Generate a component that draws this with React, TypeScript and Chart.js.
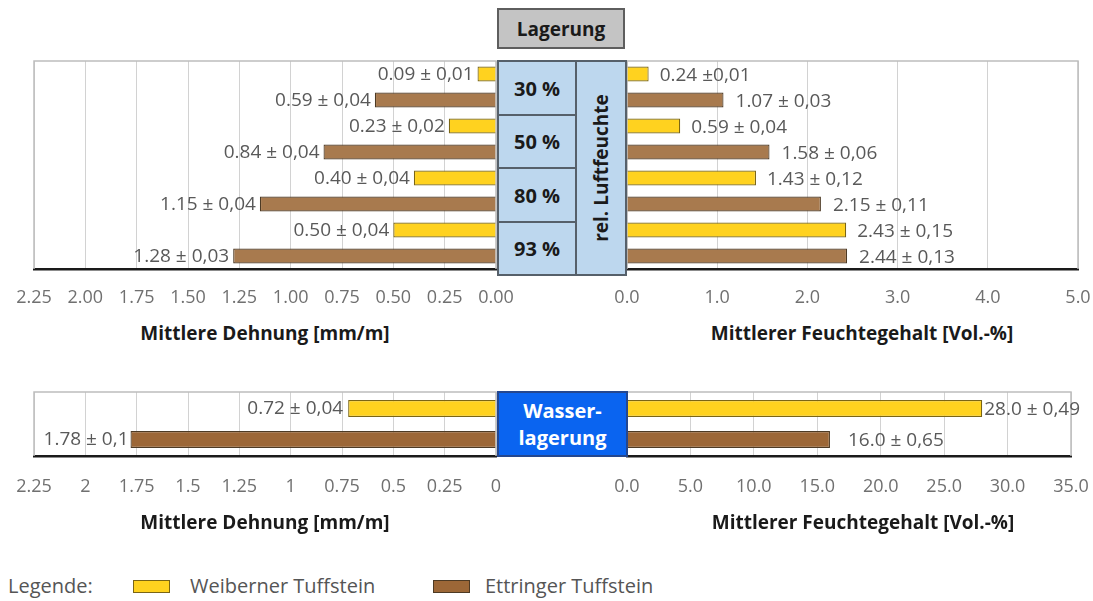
import { useEffect, useRef } from 'react';
import { Chart, registerables } from 'chart.js';

Chart.register(...registerables);

// ---------- data ----------
const humidityLevels = ['30 %', '50 %', '80 %', '93 %'];
const seriesNames = ['Weiberner Tuffstein', 'Ettringer Tuffstein'];

const strainWeiberner = [0.09, 0.23, 0.4, 0.5];
const strainEttringer = [0.59, 0.84, 1.15, 1.28];
const strainWeibernerText = ['0.09 ± 0,01', '0.23 ± 0,02', '0.40 ± 0,04', '0.50 ± 0,04'];
const strainEttringerText = ['0.59 ± 0,04', '0.84 ± 0,04', '1.15 ± 0,04', '1.28 ± 0,03'];

const moistureWeiberner = [0.24, 0.59, 1.43, 2.43];
const moistureEttringer = [1.07, 1.58, 2.15, 2.44];
const moistureWeibernerText = ['0.24 ±0,01', '0.59 ± 0,04', '1.43 ± 0,12', '2.43 ± 0,15'];
const moistureEttringerText = ['1.07 ± 0,03', '1.58 ± 0,06', '2.15 ± 0,11', '2.44 ± 0,13'];

const waterStorage = ['Wasserlagerung'];
const waterStrainWeiberner = [0.72];
const waterStrainEttringer = [1.78];
const waterStrainWeibernerText = ['0.72 ± 0,04'];
const waterStrainEttringerText = ['1.78 ± 0,1'];
const waterMoistureWeiberner = [28.0];
const waterMoistureEttringer = [16.0];
const waterMoistureWeibernerText = ['28.0 ± 0,49'];
const waterMoistureEttringerText = ['16.0 ± 0,65'];

const strainTicksTop = ['0.00', '0.25', '0.50', '0.75', '1.00', '1.25', '1.50', '1.75', '2.00', '2.25'];
const strainTicksBottom = ['0', '0.25', '0.5', '0.75', '1', '1.25', '1.5', '1.75', '2', '2.25'];
const moistureTicksTop = ['0.0', '1.0', '2.0', '3.0', '4.0', '5.0'];
const moistureTicksBottom = ['0.0', '5.0', '10.0', '15.0', '20.0', '25.0', '30.0', '35.0'];

const strainTitle = 'Mittlere Dehnung [mm/m]';
const moistureTitle = 'Mittlerer Feuchtegehalt [Vol.-%]';

// ---------- styles ----------
const FONT = "'Open Sans', sans-serif";
const YELLOW = '#ffd21f';
const YELLOW_BORDER = '#7a6515';
const BROWN_TOP = '#a87a4e';
const BROWN_BOTTOM = '#9c6737';
const BROWN_BORDER = '#4d3a24';

const framePlugin = {
  id: 'frame',
  beforeDatasetsDraw(chart: any) {
    const { ctx, chartArea } = chart;
    const { left, top, right, bottom } = chartArea;
    ctx.save();
    ctx.strokeStyle = '#bdbdbd';
    ctx.lineWidth = 1.5;
    ctx.beginPath();
    ctx.moveTo(left, bottom);
    ctx.lineTo(left, top);
    ctx.lineTo(right, top);
    ctx.lineTo(right, bottom);
    ctx.stroke();
    ctx.restore();
  },
};

const barTextPlugin = {
  id: 'barText',
  afterDatasetsDraw(chart: any, _args: any, opts: any) {
    const { ctx } = chart;
    ctx.save();
    ctx.font = opts.font;
    ctx.fillStyle = opts.color;
    ctx.textBaseline = 'middle';
    chart.data.datasets.forEach((_ds: any, di: number) => {
      const meta = chart.getDatasetMeta(di);
      meta.data.forEach((el: any, i: number) => {
        const t = opts.texts[di][i];
        const gap = opts.gaps[di];
        if (opts.side === 'left') {
          ctx.textAlign = 'right';
          ctx.fillText(t, el.x - gap, el.y + opts.dy);
        } else {
          ctx.textAlign = 'left';
          ctx.fillText(t, el.x + gap, el.y + opts.dy);
        }
      });
    });
    ctx.restore();
  },
};

type PanelProps = {
  left: number;
  top: number;
  width: number;
  height: number;
  pad: { left: number; top: number; right: number };
  axisHeight: number;
  labelPad: number;
  categories: string[];
  values: number[][];
  texts: string[][];
  fills: string[];
  max: number;
  step: number;
  tickLabels: string[];
  reverse: boolean;
  barPct: number;
  catPct: number;
  gaps: number[];
  side: 'left' | 'right';
  dy: number;
};

function Panel(p: PanelProps) {
  const ref = useRef<HTMLCanvasElement | null>(null);
  useEffect(() => {
    if (!ref.current) return;
    const chart = new Chart(ref.current, {
      type: 'bar',
      data: {
        labels: p.categories,
        datasets: p.values.map((vals, di) => ({
          label: seriesNames[di],
          data: vals,
          backgroundColor: p.fills[di],
          borderColor: di === 0 ? YELLOW_BORDER : BROWN_BORDER,
          borderWidth: 1.2,
          barPercentage: p.barPct,
          categoryPercentage: p.catPct,
        })),
      },
      options: {
        indexAxis: 'y',
        animation: false,
        responsive: false,
        maintainAspectRatio: false,
        layout: { padding: { left: p.pad.left, top: p.pad.top, right: p.pad.right, bottom: 0 } },
        plugins: {
          legend: { display: false },
          tooltip: { enabled: false },
          barText: {
            texts: p.texts,
            gaps: p.gaps,
            side: p.side,
            dy: p.dy,
            font: `19px ${FONT}`,
            color: '#595959',
          },
        } as any,
        scales: {
          x: {
            type: 'linear',
            min: 0,
            max: p.max,
            reverse: p.reverse,
            ticks: {
              stepSize: p.step,
              autoSkip: false,
              maxRotation: 0,
              minRotation: 0,
              padding: p.labelPad,
              color: '#707070',
              font: { family: FONT, size: 18 },
              callback: (v: any) => p.tickLabels[Math.round(Number(v) / p.step)],
            },
            grid: { color: '#d2d2d2', lineWidth: 1, drawTicks: false },
            border: { display: true, color: '#1a1a1a', width: 2.5 },
            afterFit: (s: any) => {
              s.height = p.axisHeight;
              s.paddingLeft = 0;
              s.paddingRight = 0;
            },
          },
          y: { display: false },
        },
      } as any,
      plugins: [framePlugin, barTextPlugin],
    });
    return () => chart.destroy();
  }, []);
  return (
    <canvas
      ref={ref}
      width={p.width}
      height={p.height}
      style={{ position: 'absolute', left: p.left, top: p.top, width: p.width, height: p.height }}
    />
  );
}

const boxText: any = {
  position: 'absolute',
  boxSizing: 'border-box',
  display: 'flex',
  alignItems: 'center',
  justifyContent: 'center',
  fontFamily: FONT,
  fontWeight: 700,
};

export default function App() {
  const pctTops = [60, 114, 167, 221];
  return (
    <div style={{ position: 'absolute', left: 0, top: 0, width: 1093, height: 601, background: '#ffffff', overflow: 'hidden', fontFamily: FONT }}>
      <Panel
        left={0} top={0} width={520} height={320}
        pad={{ left: 34, top: 61, right: 24 }} axisHeight={51} labelPad={18}
        categories={humidityLevels}
        values={[strainWeiberner, strainEttringer]}
        texts={[strainWeibernerText, strainEttringerText]}
        fills={[YELLOW, BROWN_TOP]}
        max={2.25} step={0.25} tickLabels={strainTicksTop} reverse={true}
        barPct={0.58} catPct={1} gaps={[4, 4]} side="left" dy={1}
      />
      <Panel
        left={600} top={0} width={493} height={320}
        pad={{ left: 27, top: 61, right: 15 }} axisHeight={51} labelPad={18}
        categories={humidityLevels}
        values={[moistureWeiberner, moistureEttringer]}
        texts={[moistureWeibernerText, moistureEttringerText]}
        fills={[YELLOW, BROWN_TOP]}
        max={5} step={1} tickLabels={moistureTicksTop} reverse={false}
        barPct={0.58} catPct={1} gaps={[11, 12]} side="right" dy={2}
      />
      <Panel
        left={0} top={370} width={520} height={140}
        pad={{ left: 34, top: 22, right: 24 }} axisHeight={54} labelPad={20}
        categories={waterStorage}
        values={[waterStrainWeiberner, waterStrainEttringer]}
        texts={[waterStrainWeibernerText, waterStrainEttringerText]}
        fills={[YELLOW, BROWN_BOTTOM]}
        max={2.25} step={0.25} tickLabels={strainTicksBottom} reverse={true}
        barPct={0.55} catPct={0.97} gaps={[5, 2]} side="left" dy={0}
      />
      <Panel
        left={600} top={370} width={493} height={140}
        pad={{ left: 27, top: 22, right: 22 }} axisHeight={54} labelPad={20}
        categories={waterStorage}
        values={[waterMoistureWeiberner, waterMoistureEttringer]}
        texts={[waterMoistureWeibernerText, waterMoistureEttringerText]}
        fills={[YELLOW, BROWN_BOTTOM]}
        max={35} step={5} tickLabels={moistureTicksBottom} reverse={false}
        barPct={0.55} catPct={0.97} gaps={[2, 18]} side="right" dy={1}
      />

      {/* header box */}
      <div style={{ ...boxText, left: 497, top: 8, width: 128, height: 41, background: '#c4c4c4', border: '2px solid #5e5e5e', fontSize: 19, color: '#1a1a1a' }}>
        Lagerung
      </div>

      {/* humidity boxes */}
      {humidityLevels.map((h, i) => (
        <div key={h} style={{ ...boxText, left: 497, top: pctTops[i], width: 80, height: (i < 3 ? pctTops[i + 1] + 2 : 276) - pctTops[i], background: '#bdd7ee', border: '2px solid #56606a', fontSize: 20, color: '#1a1a1a' }}>
          {h}
        </div>
      ))}
      <div style={{ ...boxText, left: 575, top: 60, width: 52, height: 216, background: '#bdd7ee', border: '2px solid #56606a' }}>
        <div style={{ transform: 'rotate(-90deg)', whiteSpace: 'nowrap', fontSize: 19, color: '#1a1a1a' }}>rel. Luftfeuchte</div>
      </div>

      {/* water storage box */}
      <div style={{ ...boxText, left: 497, top: 391, width: 131, height: 66, background: '#0a64f0', border: '2px solid #24478f', fontSize: 20, color: '#ffffff', flexDirection: 'column', lineHeight: '27px' }}>
        <div>Wasser-</div>
        <div>lagerung</div>
      </div>

      {/* axis titles */}
      {[
        { t: strainTitle, cx: 265, cy: 333 },
        { t: moistureTitle, cx: 862, cy: 333 },
        { t: strainTitle, cx: 265, cy: 522 },
        { t: moistureTitle, cx: 863, cy: 522 },
      ].map((a, i) => (
        <div key={i} style={{ position: 'absolute', left: a.cx - 250, top: a.cy - 13, width: 500, height: 26, lineHeight: '26px', textAlign: 'center', fontWeight: 700, fontSize: 19, color: '#1a1a1a' }}>
          {a.t}
        </div>
      ))}

      {/* legend */}
      <div style={{ position: 'absolute', left: 8, top: 573, height: 26, lineHeight: '26px', fontSize: 20, color: '#555555' }}>Legende:</div>
      {seriesNames.map((s, i) => (
        <div key={s}>
          <div style={{ position: 'absolute', left: i === 0 ? 133 : 433, top: 580, width: 37, height: 13, boxSizing: 'border-box', background: i === 0 ? YELLOW : BROWN_BOTTOM, border: `1px solid ${i === 0 ? YELLOW_BORDER : BROWN_BORDER}` }} />
          <div style={{ position: 'absolute', left: i === 0 ? 190 : 485, top: 573, height: 26, lineHeight: '26px', fontSize: 20, color: '#555555', whiteSpace: 'nowrap' }}>{s}</div>
        </div>
      ))}
    </div>
  );
}
